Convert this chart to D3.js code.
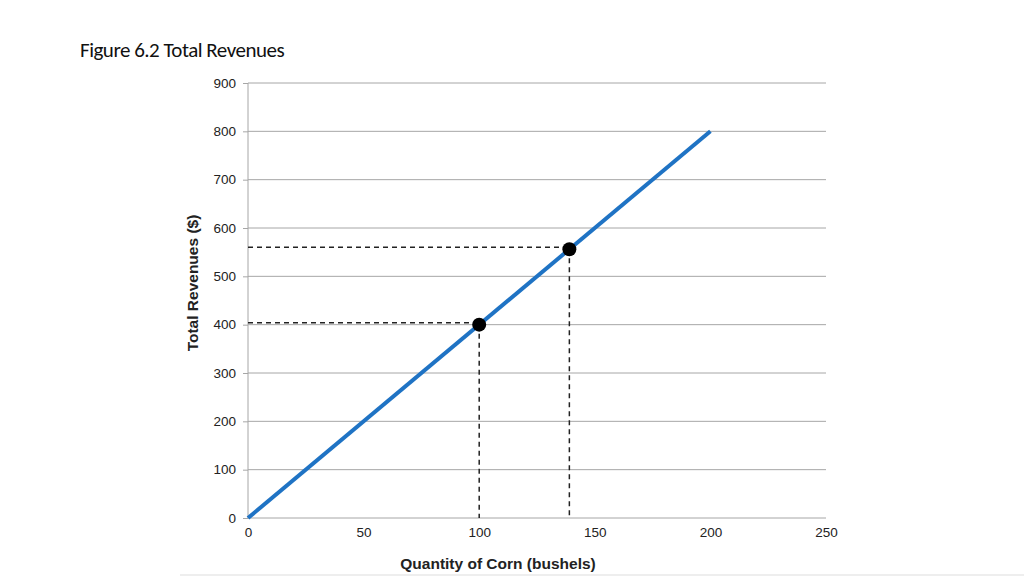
<!DOCTYPE html>
<html><head><meta charset="utf-8">
<script src="https://cdn.jsdelivr.net/npm/d3@7"></script>
<style>body{margin:0;background:#fff}svg{display:block}</style>
</head><body>
<svg id="c" width="1024" height="576"></svg>
<script>
const lineX = [0, 200];
const lineY = [0, 800];
const pointsX = [100, 139];
const pointsY = [400, 556];
const yTicks = [0,100,200,300,400,500,600,700,800,900];
const xTicks = [0,50,100,150,200,250];

const svg = d3.select("#c");
const x = d3.scaleLinear().domain([0,250]).range([248,826]);
const y = d3.scaleLinear().domain([0,900]).range([518,83]);

svg.append("text").attr("x",80).attr("y",57).attr("font-family","Carlito, Open Sans, Liberation Sans").attr("font-size",21).attr("letter-spacing","-0.5").attr("fill","#111").text("Figure 6.2  Total Revenues");

svg.append("g").selectAll("line").data(yTicks).join("line")
  .attr("x1",x(0)).attr("x2",x(250)).attr("y1",d=>y(d)).attr("y2",d=>y(d)).attr("stroke","#a6a6a6").attr("stroke-width",1);
svg.append("line").attr("x1",x(0)).attr("x2",x(0)).attr("y1",y(0)).attr("y2",y(900)).attr("stroke","#a6a6a6");

const yAxis = svg.append("g").attr("transform",`translate(${x(0)},0)`).call(d3.axisLeft(y).tickValues(yTicks).tickSize(5).tickPadding(7));
yAxis.select(".domain").remove();
yAxis.selectAll("line").attr("stroke","#a6a6a6");
yAxis.selectAll("text").attr("font-family","Liberation Sans, Arial").attr("font-size",13.5).attr("fill","#222");
const xAxis = svg.append("g").attr("transform",`translate(0,${y(0)})`).call(d3.axisBottom(x).tickValues(xTicks).tickSize(0).tickPadding(9));
xAxis.select(".domain").remove();
xAxis.selectAll("text").attr("font-family","Liberation Sans, Arial").attr("font-size",13.5).attr("fill","#222");

svg.append("text").attr("x",498).attr("y",569).attr("text-anchor","middle").attr("font-family","Liberation Sans, Arial").attr("font-weight","bold").attr("font-size",15.5).attr("fill","#222").text("Quantity of Corn (bushels)");
svg.append("text").attr("transform","translate(198,283) rotate(-90)").attr("text-anchor","middle").attr("font-family","Liberation Sans, Arial").attr("font-weight","bold").attr("font-size",15.5).attr("fill","#222").text("Total Revenues ($)");

const pts = pointsX.map((d,i)=>[d,pointsY[i]]);
const g = svg.append("g");
pts.forEach(p=>{
  g.append("line").attr("x1",x(0)).attr("x2",x(p[0])).attr("y1",y(p[1])-2).attr("y2",y(p[1])-2).attr("stroke","#222").attr("stroke-width",1.5).attr("stroke-dasharray","5,4");
  g.append("line").attr("x1",x(p[0])).attr("x2",x(p[0])).attr("y1",y(p[1])).attr("y2",y(0)).attr("stroke","#222").attr("stroke-width",1.5).attr("stroke-dasharray","5,4");
});
svg.append("line").attr("x1",x(lineX[0])).attr("x2",x(lineX[1])).attr("y1",y(lineY[0])).attr("y2",y(lineY[1])).attr("stroke","#1f73c4").attr("stroke-width",4);
svg.append("g").selectAll("circle").data(pts).join("circle").attr("cx",d=>x(d[0])).attr("cy",d=>y(d[1])).attr("r",7).attr("fill","#000");
svg.append("line").attr("x1",180).attr("x2",1024).attr("y1",575).attr("y2",575).attr("stroke","#ddd");
</script>
</body></html>
